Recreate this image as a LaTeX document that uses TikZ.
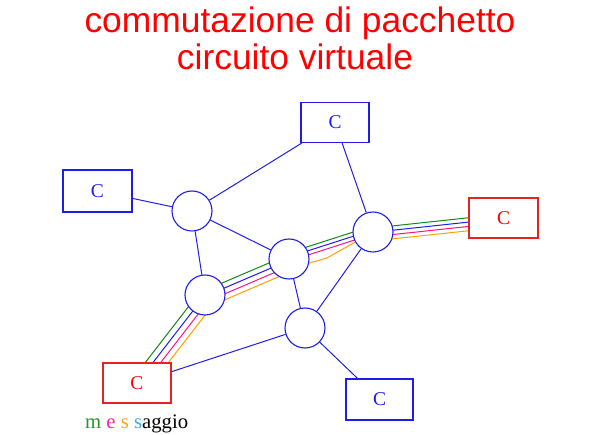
\documentclass[tikz,border=0pt]{standalone}
\usepackage{fontspec}
\setmainfont{Liberation Serif}
\newfontfamily\titlefont{Liberation Sans}
\usetikzlibrary{calc}
\pgfdeclarelayer{bg}
\pgfsetlayers{bg,main}
\definecolor{netblue}{RGB}{30,30,230}
\definecolor{hostred}{RGB}{225,35,35}
\definecolor{vgreen}{RGB}{20,135,20}
\definecolor{vblue}{RGB}{30,30,230}
\definecolor{vpink}{RGB}{250,20,140}
\definecolor{vorange}{RGB}{255,160,0}
\definecolor{mgreen}{RGB}{40,150,40}
\definecolor{mpink}{RGB}{250,40,150}
\definecolor{morange}{RGB}{255,165,20}
\definecolor{mcyan}{RGB}{40,175,240}
\begin{document}
\begin{tikzpicture}[x=1pt,y=-1pt,
  router/.style={circle,draw=netblue,fill=white,line width=1.1pt,minimum size=40pt,inner sep=0pt},
  host/.style={rectangle,draw=netblue,fill=white,line width=1.1pt,minimum width=68pt,minimum height=40pt,inner sep=0pt,text=netblue,font=\fontsize{19.5}{19.5}\selectfont},
  redhost/.style={host,draw=hostred,text=red},
  link/.style={draw=netblue,line width=1pt},
  vc/.style={line width=1pt},
  titletext/.style={text=red,font=\titlefont\fontsize{35.4}{40}\selectfont,anchor=base,inner sep=0pt}]
\useasboundingbox (0,0) rectangle (600,435);
% title
\node[titletext] (t1) at (300,33) {commutazione di pacchetto};
\node[titletext] (t2) at (295,70) {circuito virtuale};
% hosts
\node[host] (T) at (335,122.5) {C};
\node[host,minimum width=69pt,minimum height=42pt] (L) at (97.5,191) {C};
\node[redhost,minimum width=69pt] (R) at (503.5,218) {C};
\node[redhost] (BL) at (137,383) {C};
\node[host,minimum width=67pt,minimum height=41pt] (BR) at (379.5,399.5) {C};
% routers
\node[router] (A) at (192,211) {};
\node[router] (B) at (373,232) {};
\node[router] (C) at (289,259) {};
\node[router] (D) at (205,295) {};
\node[router] (E) at (305,328) {};
\coordinate (kink) at (327,258);
\begin{pgfonlayer}{bg}
\draw[link] (L) -- (A);
\draw[link] (A) -- (T);
\draw[link] (T) -- (B);
\draw[link] (A) -- (C);
\draw[link] (A) -- (D);
\draw[link] (C) -- (E);
\draw[link] (B) -- (E);
\draw[link] (BL) -- (E);
\draw[link] (E) -- (BR);
% virtual circuit bundle
\foreach \P/\Q/\s/\b in {BL/D/6.1/-3.2, D/C/5.5/-4, C/B/4/0, B/R/4.3/-2.5}{
  \foreach \col/\k in {vgreen/1.5, vblue/0.5, vpink/-0.5}{
    \pgfmathsetmacro\d{\b+\k*\s}
    \draw[vc,\col] ($(\P)!\d pt!90:(\Q)$) -- ($(\Q)!\d pt!-90:(\P)$);
  }
}
\foreach \P/\Q/\s/\b in {BL/D/6.1/-3.2, D/C/5.5/-4, B/R/4.3/-2.5}{
  \pgfmathsetmacro\d{\b-1.5*\s}
  \draw[vc,vorange] ($(\P)!\d pt!90:(\Q)$) -- ($(\Q)!\d pt!-90:(\P)$);
}
\draw[vc,vorange] ($(C)+(0,10)$) -- (kink) -- (B);
\end{pgfonlayer}
% message label
\node[anchor=base west,inner sep=0pt,font=\fontsize{20.7}{20.7}\selectfont] (msg) at (85,429)
  {{\color{mgreen}m} {\color{mpink}e} {\color{morange}s} {\color{mcyan}s}aggio};
\end{tikzpicture}
\end{document}
